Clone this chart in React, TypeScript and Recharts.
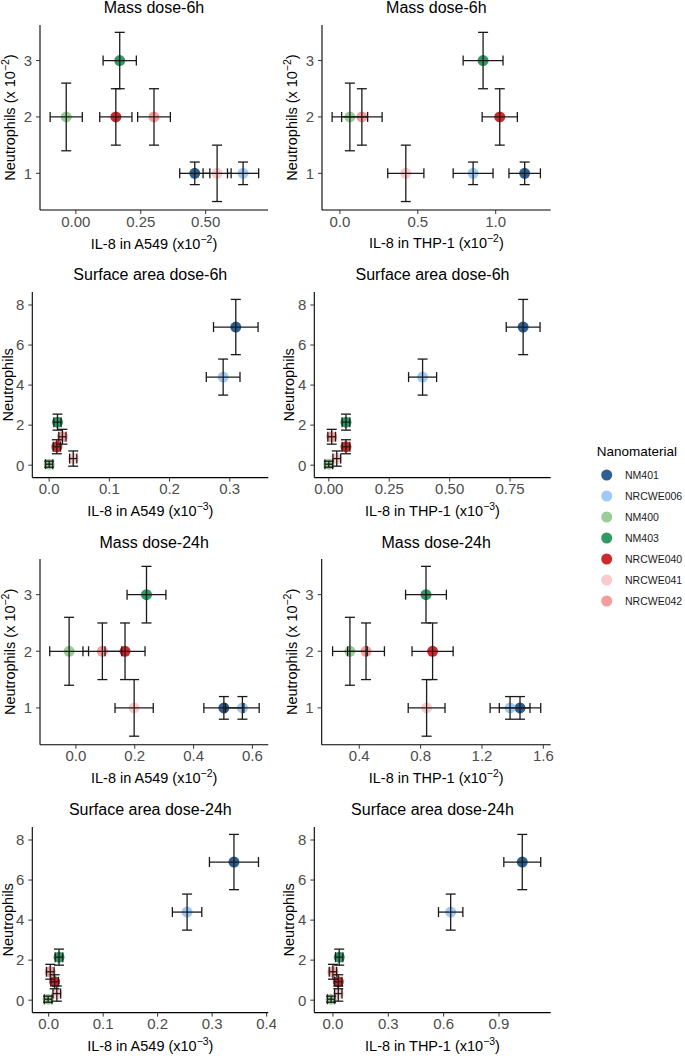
import { ErrorBar, Scatter, ScatterChart, XAxis, YAxis } from 'recharts'

const FONT = '"Liberation Sans", Arial, sans-serif'

const materials = ['NM401', 'NRCWE006', 'NM400', 'NM403', 'NRCWE040', 'NRCWE041', 'NRCWE042']
const materialColors = ['#2D5F93', '#9DCBF6', '#9ACD98', '#2F9A63', '#CC2A2C', '#FCCACA', '#F69C9B']

// neutrophil influx (same in vivo values for every panel of a dose metric)
const massNeutrophils = [1, 1, 2, 3, 2, 1, 2]
const massNeutrophilsErr = [0.2, 0.2, 0.6, 0.5, 0.5, 0.5, 0.5]
const surfaceNeutrophils = [6.9, 4.4, 0.05, 2.15, 0.92, 0.33, 1.42]
const surfaceNeutrophilsErr = [1.38, 0.9, 0.15, 0.4, 0.35, 0.38, 0.37]

// IL-8 responses, order follows `materials`
const mass6hA549 = [0.458, 0.644, -0.037, 0.169, 0.154, 0.544, 0.301]
const mass6hA549Err = [0.058, 0.06, 0.062, 0.064, 0.062, 0.054, 0.063]
const mass6hTHP1 = [1.186, 0.855, 0.064, 0.919, 1.026, 0.423, 0.141]
const mass6hTHP1Err = [0.101, 0.128, 0.114, 0.128, 0.113, 0.116, 0.13]
const surface6hA549 = [0.31, 0.289, 0.0, 0.0138, 0.0128, 0.04, 0.022]
const surface6hA549Err = [0.037, 0.028, 0.006, 0.006, 0.006, 0.006, 0.006]
const surface6hTHP1 = [0.804, 0.388, 0.0, 0.071, 0.071, 0.033, 0.012]
const surface6hTHP1Err = [0.07, 0.058, 0.016, 0.016, 0.016, 0.016, 0.016]
const mass24hA549 = [0.503, 0.566, -0.023, 0.24, 0.167, 0.198, 0.09]
const mass24hA549Err = [0.068, 0.057, 0.066, 0.066, 0.068, 0.065, 0.066]
const mass24hTHP1 = [1.448, 1.383, 0.339, 0.835, 0.878, 0.839, 0.444]
const mass24hTHP1Err = [0.135, 0.13, 0.113, 0.133, 0.134, 0.12, 0.12]
const surface24hA549 = [0.34, 0.254, -0.001, 0.019, 0.011, 0.015, 0.003]
const surface24hA549Err = [0.045, 0.027, 0.007, 0.007, 0.007, 0.007, 0.007]
const surface24hTHP1 = [1.026, 0.638, -0.01, 0.034, 0.029, 0.029, 0.0]
const surface24hTHP1Err = [0.1, 0.066, 0.02, 0.02, 0.02, 0.02, 0.02]

const massTicks = [1, 2, 3]
const surfaceTicks = [0, 2, 4, 6, 8]

type Panel = {
  title: string
  x: number[]
  xErr: number[]
  mass: boolean
  xDomain: [number, number]
  xTicks: number[]
  digits: number
  cell: string
  exp: string
  plot: [number, number, number, number]
  col: number
}

const panels: Panel[] = [
  { title: 'Mass dose-6h', x: mass6hA549, xErr: mass6hA549Err, mass: true, xDomain: [-0.138, 0.74], xTicks: [0, 0.25, 0.5], digits: 2, cell: 'A549', exp: '−2', plot: [40, 268, 25, 210], col: 0 },
  { title: 'Mass dose-6h', x: mass6hTHP1, xErr: mass6hTHP1Err, mass: true, xDomain: [-0.115, 1.353], xTicks: [0, 0.5, 1], digits: 1, cell: 'THP-1', exp: '−2', plot: [322, 550.7, 25, 210], col: 282 },
  { title: 'Surface area dose-6h', x: surface6hA549, xErr: surface6hA549Err, mass: false, xDomain: [-0.028, 0.364], xTicks: [0, 0.1, 0.2, 0.3], digits: 1, cell: 'A549', exp: '−3', plot: [32.3, 268.3, 291.7, 477.3], col: 0 },
  { title: 'Surface area dose-6h', x: surface6hTHP1, xErr: surface6hTHP1Err, mass: false, xDomain: [-0.06, 0.918], xTicks: [0, 0.25, 0.5, 0.75], digits: 2, cell: 'THP-1', exp: '−3', plot: [314.3, 550.7, 291.7, 477.3], col: 282 },
  { title: 'Mass dose-24h', x: mass24hA549, xErr: mass24hA549Err, mass: true, xDomain: [-0.122, 0.654], xTicks: [0, 0.2, 0.4, 0.6], digits: 1, cell: 'A549', exp: '−2', plot: [40, 268.3, 559.3, 745], col: 0 },
  { title: 'Mass dose-24h', x: mass24hTHP1, xErr: mass24hTHP1Err, mass: true, xDomain: [0.155, 1.648], xTicks: [0.4, 0.8, 1.2, 1.6], digits: 1, cell: 'THP-1', exp: '−2', plot: [321.7, 550.7, 559.3, 745], col: 282 },
  { title: 'Surface area dose-24h', x: surface24hA549, xErr: surface24hA549Err, mass: false, xDomain: [-0.03, 0.403], xTicks: [0, 0.1, 0.2, 0.3, 0.4], digits: 1, cell: 'A549', exp: '−3', plot: [32.3, 268.3, 826.7, 1012.3], col: 0 },
  { title: 'Surface area dose-24h', x: surface24hTHP1, xErr: surface24hTHP1Err, mass: false, xDomain: [-0.101, 1.18], xTicks: [0, 0.3, 0.6, 0.9], digits: 1, cell: 'THP-1', exp: '−3', plot: [314.3, 550.7, 826.7, 1012.3], col: 282 },
]

const TOP_PAD = 30
const AXIS_H = 45
const TICK_FONT = 15

function PanelChart({ p }: { p: Panel }) {
  const [x0, x1, y0, y1] = p.plot
  const left = p.col
  const top = y0 - TOP_PAD
  const yw = x0 - left
  const width = x1 - left + 8
  const height = y1 - top + AXIS_H
  const ys = p.mass ? massNeutrophils : surfaceNeutrophils
  const yErr = p.mass ? massNeutrophilsErr : surfaceNeutrophilsErr
  const yDomain: [number, number] = p.mass ? [0.35, 3.63] : [-0.62, 8.65]
  const bars = materials.map((_, i) => ({ x: p.x[i], y: ys[i], ex: p.xErr[i], ey: yErr[i] }))
  const xMid = yw + (x1 - x0) / 2
  const yMid = TOP_PAD + (y1 - y0) / 2
  const yTitleX = yw - (p.mass ? 30 : 25) + 5.2
  const margin = { top: TOP_PAD, right: 8, bottom: 0, left: 0 }

  const xTick = (t: any) => (
    <text x={t.x} y={t.y} dy="0.71em" textAnchor="middle" fontSize={TICK_FONT} fontFamily={FONT} fill="#4D4D4D">
      {Number(t.payload.value).toFixed(p.digits)}
    </text>
  )
  const yTick = (t: any) => (
    <text x={t.x} y={t.y} dy="0.355em" textAnchor="end" fontSize={TICK_FONT} fontFamily={FONT} fill="#4D4D4D">
      {t.payload.value}
    </text>
  )

  return (
    <div style={{ position: 'absolute', left, top, width, height }}>
      <div
        style={{
          position: 'absolute', left: yw, width: x1 - x0, top: TOP_PAD - 16.7 - 10, height: 20,
          lineHeight: '20px', textAlign: 'center', fontSize: 16, color: '#000', whiteSpace: 'nowrap',
        }}
      >
        {p.title}
      </div>
      <div style={{ position: 'absolute', left: 0, top: 0 }}>
        <ScatterChart width={width} height={height} margin={margin}>
          <XAxis
            type="number"
            dataKey="x"
            domain={p.xDomain}
            allowDataOverflow
            ticks={p.xTicks}
            interval={0}
            height={AXIS_H}
            axisLine={{ stroke: '#000', strokeWidth: 1.1 }}
            tickLine={{ stroke: '#333' }}
            tickSize={4}
            tickMargin={2}
            tick={xTick}
            label={() => (
              <text x={xMid} y={TOP_PAD + (y1 - y0) + 38.5} textAnchor="middle" fontSize={14.5} fontFamily={FONT} fill="#000">
                {`IL-8 in ${p.cell} (x10`}
                <tspan dy={-6} fontSize={10.5}>{p.exp}</tspan>
                <tspan dy={6}>)</tspan>
              </text>
            )}
          />
          <YAxis
            type="number"
            dataKey="y"
            domain={yDomain}
            allowDataOverflow
            ticks={p.mass ? massTicks : surfaceTicks}
            interval={0}
            width={yw}
            axisLine={{ stroke: '#000', strokeWidth: 1.1 }}
            tickLine={{ stroke: '#333' }}
            tickSize={4}
            tickMargin={4}
            tick={yTick}
            label={() => (
              <text transform={`translate(${yTitleX},${yMid}) rotate(-90)`} textAnchor="middle" fontSize={14.5} fontFamily={FONT} fill="#000">
                {p.mass ? 'Neutrophils (x 10' : 'Neutrophils'}
                {p.mass && <tspan dy={-6} fontSize={10.5}>−2</tspan>}
                {p.mass && <tspan dy={6}>)</tspan>}
              </text>
            )}
          />
          {materials.map((m, i) => (
            <Scatter
              key={m}
              name={m}
              data={[{ x: p.x[i], y: ys[i] }]}
              isAnimationActive={false}
              shape={(s: any) => <circle cx={s.cx} cy={s.cy} r={5.5} fill={materialColors[i]} />}
            />
          ))}
        </ScatterChart>
      </div>
      {/* error bars in an identical overlay so they sit on top of the points */}
      <div style={{ position: 'absolute', left: 0, top: 0 }}>
        <ScatterChart width={width} height={height} margin={margin}>
          <XAxis type="number" dataKey="x" domain={p.xDomain} allowDataOverflow height={AXIS_H} axisLine={false} tickLine={false} tick={false} />
          <YAxis type="number" dataKey="y" domain={yDomain} allowDataOverflow width={yw} axisLine={false} tickLine={false} tick={false} />
          <Scatter data={bars} isAnimationActive={false} shape={() => <g />}>
            <ErrorBar dataKey="ex" direction="x" width={5} stroke="#1a1a1a" strokeWidth={1.3} isAnimationActive={false} />
            <ErrorBar dataKey="ey" direction="y" width={5} stroke="#1a1a1a" strokeWidth={1.3} isAnimationActive={false} />
          </Scatter>
        </ScatterChart>
      </div>
    </div>
  )
}

function MaterialLegend() {
  return (
    <svg style={{ position: 'absolute', left: 590, top: 438 }} width={95} height={175}>
      <text x={6.7} y={18} fontSize={13.5} fontFamily={FONT} fill="#000">Nanomaterial</text>
      {materials.map((m, i) => (
        <g key={m}>
          <circle cx={16.7} cy={37 + 21 * i} r={5.5} fill={materialColors[i]} />
          <text x={35} y={37 + 21 * i + 3.8} fontSize={10.5} fontFamily={FONT} fill="#1a1a1a">{m}</text>
        </g>
      ))}
    </svg>
  )
}

export default function App() {
  return (
    <div style={{ position: 'absolute', left: 0, top: 0, width: 685, height: 1056, background: '#fff', fontFamily: FONT }}>
      {panels.map((p, i) => (
        <PanelChart key={i} p={p} />
      ))}
      <MaterialLegend />
    </div>
  )
}
